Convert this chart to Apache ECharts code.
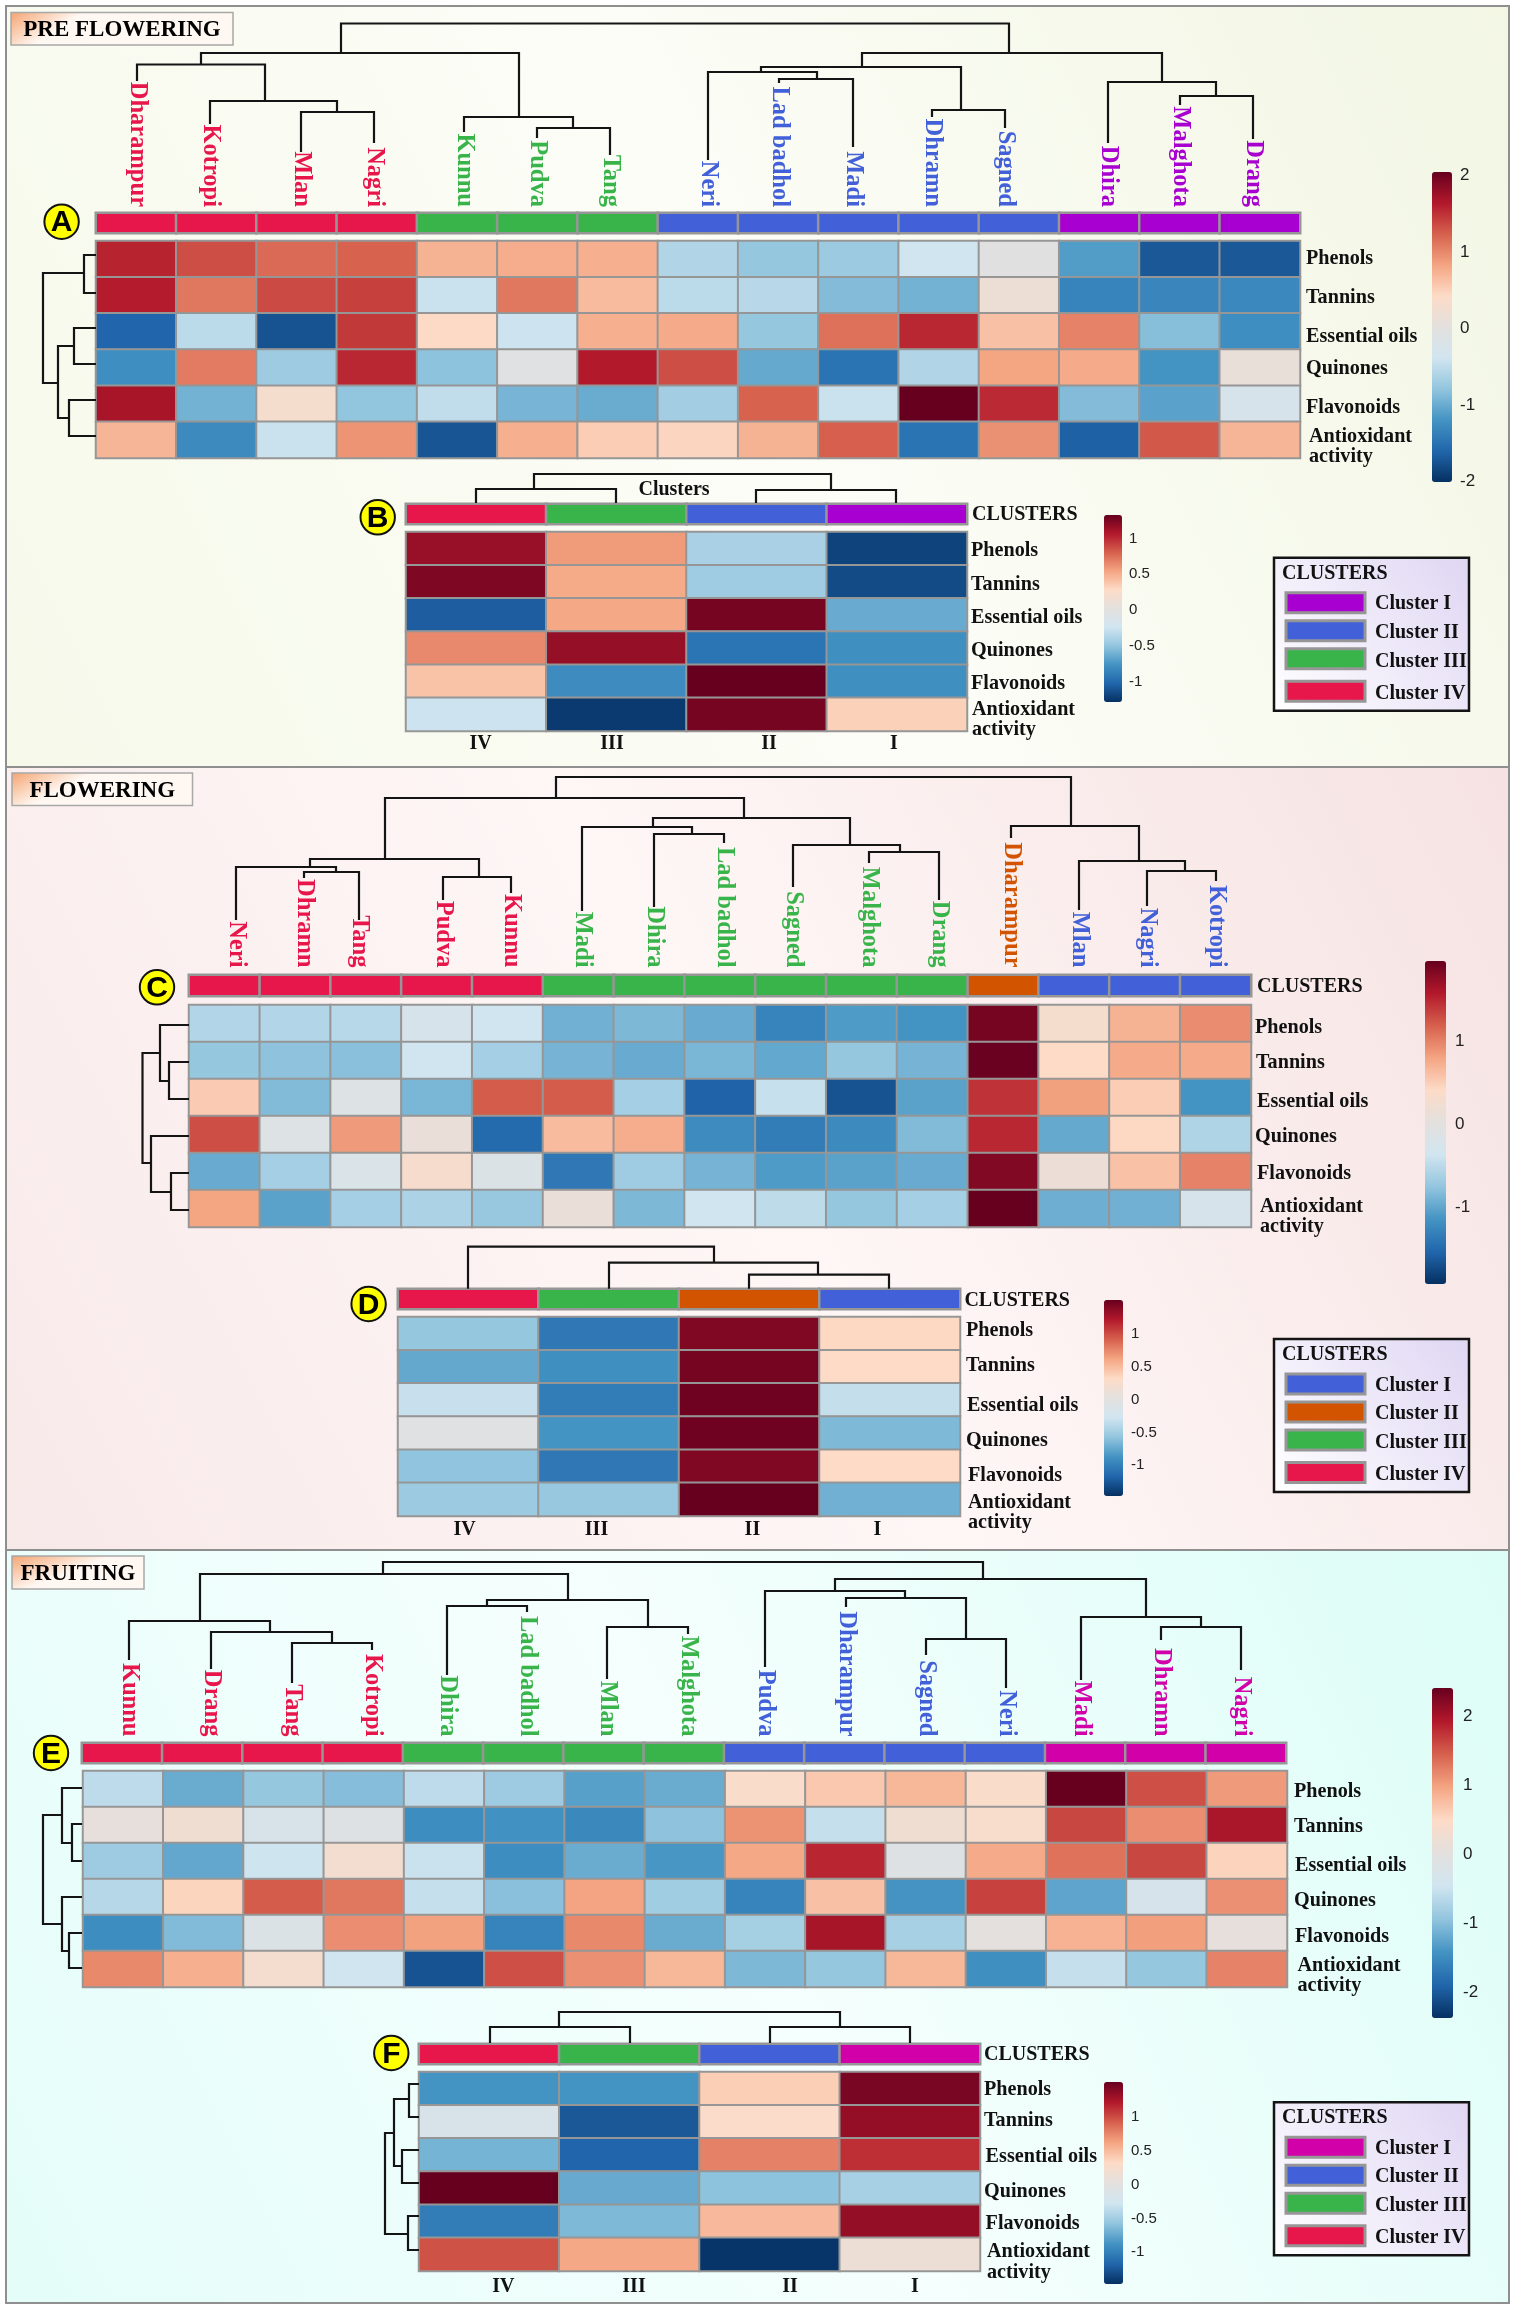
<!DOCTYPE html>
<html>
<head>
<meta charset="utf-8">
<style>html,body{margin:0;padding:0;background:#fff}#main{width:1517px;height:2308px}</style>
<script src="https://cdn.jsdelivr.net/npm/echarts@6/dist/echarts.min.js"></script>
</head>
<body>
<div id="main"></div>
<script>
// ---------- labels ----------
const rowNames = ['Phenols','Tannins','Essential oils','Quinones','Flavonoids','Antioxidant activity'];
const clusterNames = ['IV','III','II','I'];
// cluster colour codes: 1 crimson, 2 green, 3 blue, 4 purple, 5 orange, 6 magenta
const colsA = ['Dharampur','Kotropi','Mlan','Nagri','Kunnu','Pudva','Tang','Neri','Lad badhol','Madi','Dhramn','Sagned','Dhira','Malghota','Drang'];
const annA  = [1,1,1,1,2,2,2,3,3,3,3,3,4,4,4];
const colsC = ['Neri','Dhramn','Tang','Pudva','Kunnu','Madi','Dhira','Lad badhol','Sagned','Malghota','Drang','Dharampur','Mlan','Nagri','Kotropi'];
const annC  = [1,1,1,1,1,2,2,2,2,2,2,5,3,3,3];
const colsE = ['Kunnu','Drang','Tang','Kotropi','Dhira','Lad badhol','Mlan','Malghota','Pudva','Dharampur','Sagned','Neri','Madi','Dhramn','Nagri'];
const annE  = [1,1,1,1,2,2,2,2,3,3,3,3,6,6,6];
const annB  = [1,2,3,4];
const annD  = [1,2,5,3];
const annF  = [1,2,3,6];

const valsA = [
 [1.56,1.32,1.16,1.2,.71,.75,.73,-.61,-.79,-.75,-.41,-.04,-1.14,-1.73,-1.73],
 [1.6,1.08,1.34,1.4,-.45,1.08,.65,-.55,-.57,-.89,-.97,.16,-1.36,-1.34,-1.32],
 [-1.62,-.55,-1.77,1.44,.41,-.43,.73,.77,-.79,1.12,1.54,.61,1.02,-.87,-1.26],
 [-1.26,1.06,-.73,1.54,-.83,-.08,1.62,1.32,-1.04,-1.5,-.61,.81,.77,-1.22,.08],
 [1.68,-.97,.28,-.81,-.51,-.95,-1.02,-.71,1.2,-.45,2.03,1.52,-.89,-1.1,-.26],
 [.69,-1.3,-.45,.91,-1.75,.73,.51,.45,.71,1.22,-1.5,.93,-1.66,1.26,.69]];
const valsB = [
 [1.14,.56,-.43,-1.22],[1.23,.5,-.47,-1.18],[-1.09,.51,1.26,-.66],
 [.63,1.15,-.96,-.81],[.38,-.83,1.31,-.81],[-.28,-1.26,1.26,.31]];
const valsC = [
 [-.58,-.58,-.55,-.27,-.39,-.94,-.88,-.98,-1.31,-1.11,-1.17,1.87,.27,.68,.92],
 [-.76,-.8,-.82,-.39,-.66,-.92,-.98,-.9,-1.01,-.76,-.92,1.93,.39,.74,.74],
 [.51,-.86,-.14,-.9,1.19,1.19,-.66,-1.58,-.45,-1.7,-1.05,1.42,.8,.49,-1.17],
 [1.27,-.12,.84,.1,-1.52,.62,.72,-1.23,-1.37,-1.25,-.86,1.48,-1,.41,-.6],
 [-.98,-.66,-.2,.29,-.18,-1.4,-.7,-.92,-1.11,-1.05,-.98,1.81,.14,.58,.98],
 [.78,-1.05,-.66,-.62,-.74,.1,-.88,-.39,-.51,-.76,-.66,1.95,-.96,-.94,-.25]];
const valsD = [
 [-.58,-1.07,1.39,.31],[-.77,-.92,1.43,.3],[-.34,-1.04,1.46,-.36],
 [-.07,-.89,1.46,-.67],[-.6,-1.07,1.39,.3],[-.55,-.57,1.49,-.72]];
const valsE = [
 [-.62,-1.2,-.93,-1.03,-.62,-.86,-1.31,-1.2,.41,.65,.79,.41,2.39,1.55,1.03],
 [.07,.24,-.29,-.14,-1.5,-1.46,-1.55,-.98,1.08,-.57,.24,.38,1.6,1.12,1.96],
 [-.86,-1.24,-.5,.29,-.53,-1.5,-1.2,-1.41,.93,1.82,-.12,.91,1.31,1.6,.55],
 [-.69,.53,1.46,1.27,-.57,-1,.96,-.84,-1.6,.72,-1.43,1.63,-1.27,-.31,1.1],
 [-1.5,-1.05,-.22,1.12,.98,-1.6,1.15,-1.2,-.81,1.98,-.79,0,.84,1,.07],
 [1.15,.86,.31,-.48,-2.08,1.55,1.1,.79,-1.08,-.93,.79,-1.48,-.57,-.93,1.2]];
const valsF = [
 [-.89,-.89,.37,1.42],[-.19,-1.27,.27,1.31],[-.7,-1.19,.75,1.1],
 [1.49,-.76,-.61,-.49],[-1.04,-.67,.49,1.31],[.95,.58,-1.46,.12]];

// ---------- dendrograms: leaf position / leaf base, then merges [childA, childB, height, parent stem] ----------
const leafPosA  = [41,114,205,278,368,441,514,612,683,757,836,909,1012,1084,1157];
const leafBaseA = [131,88,60,69,80,74,57,52,129,65,95,84,69,107,73];
const mergeA = [[2,3,100,241],[1,15,111,169],[0,16,147.5,105],[5,6,84,477],[4,18,95,423],[17,19,159,245],
 [8,9,133,721],[7,21,140,665],[10,11,102,865],[22,23,145,766],[13,14,116,1120],[12,25,130,1066],[24,26,159,913],[20,27,188.5]];
const leafPosC  = [47,115,170,254,322,393,465,535,604,680,750,822,890,958,1027];
const leafBaseC = [54,96,54,74,81,63,67,131,87,111,74,136,64,68,93];
const mergeC = [[1,2,102,147],[0,15,107,121],[3,4,97,290],[16,17,115,196],[6,7,140,503],[5,19,147,464],
 [9,10,122,711],[8,21,129,661],[20,22,156,555],[18,23,176,367],[13,14,103,996],[12,25,113,950],[11,26,148,882],[24,27,197]];
const leafPosE  = [47,129,210,290,365,445,525,606,683,764,844,924,999,1079,1159];
const leafBaseE = [82,73,59,92,67,130,63,108,75,135,87,54,62,102,72];
const mergeE = [[2,3,99,250],[1,15,110,188],[0,16,121,118],[4,5,136,405],[6,7,115,566],[18,19,142,486],[17,20,168,301],
 [10,11,103,884],[9,22,144,823],[8,23,151,753],[13,14,115,1119],[12,25,125,1064],[24,26,163,901],[21,27,180]];
const leafPosB = [70,210,350,490], leafBaseB = [0,0,0,0], mergeB = [[0,1,14,128],[2,3,13,425],[4,5,29]];
const leafPosD = [70,211,351,491], leafBaseD = [0,0,0,0], mergeD = [[2,3,14,420],[1,4,26,316],[0,5,42]];
const leafPosF = [71,211,351,491], leafBaseF = [0,0,0,0], mergeF = [[0,1,16,140],[2,3,16,421],[4,5,31]];
const rowLeafA = [14,52,87,123,159,195], rowMergeA = [[0,1,12,32],[2,3,22,105],[4,5,27,177],[7,8,38,142],[6,9,53]];
const rowLeafC = [20,57,94,131,168,205], rowMergeC = [[1,2,20,76],[0,6,29,48],[4,5,18,187],[3,8,38,158],[7,9,46.5]];
const rowLeafE = [18,54,91,127,163,198], rowMergeE = [[1,2,10,73],[0,6,20,45],[4,5,13,181],[3,8,20,154],[7,9,39]];
const rowLeafF = [13,46,79,112,145,179], rowMergeF = [[0,1,10,28],[2,3,17,95],[6,7,25,62],[4,5,11,163],[8,9,34]];

// ---------- colour bars ----------
const ticksBig = [2,1,0,-1,-2];
const ticksMid = [1,0,-1];
const ticksSmall = [1,0.5,0,-0.5,-1];
const rangeA = 2.03, rangeB = 1.31, rangeC = 1.95, rangeD = 1.49, rangeE = 2.39, rangeF = 1.49;

// ---------- styling ----------
const ramp = ['#053061','#2166AC','#4393C3','#92C5DE','#D1E5F0','#E3E0DE','#FDDBC7','#F4A582','#D6604D','#B2182B','#67001F'];
const clusterColor = {1:'#E8174B',2:'#39B44A',3:'#4260D8',4:'#A800D0',5:'#D35400',6:'#D100A8'};
const SERIF = '"Liberation Serif","Times New Roman",serif';
const SANS = '"Liberation Sans",Arial,sans-serif';
const GRAY = '#969696';

const grids=[], xAxes=[], yAxes=[], series=[], visualMaps=[], gfx=[];

function addGrid(l,t,w,h,x,y){
  const i=grids.length;
  grids.push({left:l,top:t,width:w,height:h,containLabel:false,show:false});
  xAxes.push(Object.assign({gridIndex:i,show:false},x));
  yAxes.push(Object.assign({gridIndex:i,show:false},y));
  return i;
}
function text(x,y,s,font,fill,align,sx){
  gfx.push({type:'text',x,y:y+1.5,scaleX:sx||1,silent:true,
    style:{text:s,font,fill:fill||'#111',align:align||'left',verticalAlign:'middle'}});
}
function treeSegments(pos0,base0,merges){
  const pos=pos0.slice(), base=base0.slice(), out=[];
  merges.forEach(m=>{
    out.push([pos[m[0]],base[m[0]],pos[m[1]],base[m[1]],m[2]]);
    pos.push(m[3]); base.push(m[2]);
  });
  return out;
}
function treeSeries(gridIdx,segs,horizontal){
  series.push({type:'custom',coordinateSystem:'cartesian2d',xAxisIndex:gridIdx,yAxisIndex:gridIdx,silent:true,clip:false,
    data:segs,animation:false,
    renderItem(params,api){
      const p=(v,d)=>api.coord(horizontal?[d,v]:[v,d]);
      const a=api.value(0),ba=api.value(1),b=api.value(2),bb=api.value(3),h=api.value(4);
      return {type:'polyline',shape:{points:[p(a,ba),p(a,h),p(b,h),p(b,bb)]},
        style:{stroke:'#141414',lineWidth:2.2,fill:null}};
    }});
}
function leafLabels(gridIdx,pos,names,codes,end){
  series.push({type:'custom',coordinateSystem:'cartesian2d',xAxisIndex:gridIdx,yAxisIndex:gridIdx,silent:true,clip:false,
    data:pos.map((v,i)=>[v,end]),animation:false,
    renderItem(params,api){
      const c=api.coord([api.value(0),api.value(1)]), i=params.dataIndex;
      return {type:'text',x:c[0],y:c[1],rotation:-Math.PI/2,
        style:{text:names[i],font:'bold 24.5px '+SERIF,fill:clusterColor[codes[i]],align:'right',verticalAlign:'middle'}};
    }});
}
function heatmap(h,vals,colNames,range,bar,ticks,tickX,tickFont){
  const g=addGrid(h.l,h.t,h.w,h.h,
    {type:'category',data:colNames},{type:'category',data:rowNames,inverse:true});
  const data=[]; vals.forEach((row,r)=>row.forEach((v,c)=>data.push([c,r,v])));
  const si=series.length;
  series.push({type:'heatmap',xAxisIndex:g,yAxisIndex:g,data,progressive:0,animation:false,silent:true,
    itemStyle:{borderColor:GRAY,borderWidth:2}});
  visualMaps.push({type:'continuous',seriesIndex:si,min:-range,max:range,calculable:false,hoverLink:false,
    left:bar.l,top:bar.t,itemWidth:bar.w,itemHeight:bar.h,padding:0,orient:'vertical',
    inRange:{color:ramp}});
  ticks.forEach(v=>text(tickX,bar.t+(range-v)/(2*range)*bar.h,String(v),tickFont+'px '+SANS,'#222'));
}
const annSeries=[];
function annotation(a,codes,names){
  const g=addGrid(a.l,a.t,a.w,a.h,
    {type:'category',data:names},{type:'category',data:['CLUSTERS']});
  annSeries.push(series.length);
  series.push({type:'heatmap',xAxisIndex:g,yAxisIndex:g,data:codes.map((c,i)=>[i,0,c]),progressive:0,animation:false,silent:true,
    itemStyle:{borderColor:GRAY,borderWidth:2.5}});
}
function rowLabels(x,xa,ys){
  const f='bold 21px '+SERIF, sx=.96;
  rowNames.slice(0,5).forEach((n,i)=>text(x[i],ys[i],n,f,'#111','left',sx));
  text(xa,ys[5],'Antioxidant',f,'#111','left',sx);
  text(xa,ys[6],'activity',f,'#111','left',sx);
}
function panelBg(y,h,c1,c2,c3){
  gfx.push({type:'rect',shape:{x:6,y,width:1503,height:h},silent:true,
    style:{stroke:'#8f8f8f',lineWidth:2,
      fill:{type:'linear',x:1,y:0,x2:0,y2:1,colorStops:[{offset:0,color:c1},{offset:.5,color:c2},{offset:1,color:c3}]}}});
}
function tag(x,y,w,h,s){
  gfx.push({type:'rect',shape:{x,y,width:w,height:h},silent:true,
    style:{stroke:'#a8a8a8',lineWidth:1.5,
      fill:{type:'linear',x:0,y:0,x2:.1,y2:1,colorStops:[{offset:0,color:'#f4a26e'},{offset:1,color:'#fff8f2'}]}}});
  text(x+w/2,y+h/2,s,'bold 23px '+SERIF,'#000','center');
}
function badge(x,y,s){
  gfx.push({type:'circle',shape:{cx:x,cy:y,r:17.2},silent:true,style:{fill:'#ffff00',stroke:'#111',lineWidth:2}});
  text(x,y,s,'bold 30px '+SANS,'#000','center');
}
function legendBox(top,codes){
  const l=1274,w=195;
  gfx.push({type:'rect',shape:{x:l,y:top,width:w,height:153},silent:true,
    style:{stroke:'#141414',lineWidth:2.5,
      fill:{type:'linear',x:0,y:1,x2:1,y2:0,colorStops:[{offset:0,color:'#ffffff'},{offset:1,color:'#dfd6f3'}]}}});
  text(1282,top+14.5,'CLUSTERS','bold 20px '+SERIF);
  const sw=[35,63,91,123.5], ty=[45,73.5,102.5,134.5], names=['Cluster I','Cluster II','Cluster III','Cluster IV'];
  codes.forEach((c,i)=>{
    gfx.push({type:'rect',shape:{x:1286,y:top+sw[i],width:79,height:20},silent:true,
      style:{fill:clusterColor[c],stroke:GRAY,lineWidth:3}});
    text(1375,top+ty[i],names[i],'bold 20px '+SERIF);
  });
}

// ---------- panel backgrounds ----------
panelBg(6,761,'#f2f6e3','#fcfdf7','#f6f9ea');
panelBg(767,783,'#f6e2e2','#fef7f6','#f8e9e9');
panelBg(1550,753,'#dcfdf6','#f5fffd','#e4fdf9');
tag(11,12.5,222,32.5,'PRE FLOWERING');
tag(12,773,180.5,32.5,'FLOWERING');
tag(12,1556,132,33,'FRUITING');

// ---------- A ----------
{
  const h={l:96,t:241,w:1204,h:217}, annTop=213;
  heatmap(h,valsA,colsA,rangeA,{l:1432,t:172,w:20,h:310},ticksBig,1460,17);
  annotation({l:96,t:annTop,w:1204,h:20},annA,colsA);
  const g=addGrid(96,0,1204,212,{type:'value',min:0,max:1204},{type:'value',min:0,max:212});
  treeSeries(g,treeSegments(leafPosA,leafBaseA,mergeA),false);
  leafLabels(g,leafPosA,colsA,annA,5);
  const r=addGrid(36,241,60,217,{type:'value',min:0,max:60,inverse:true},{type:'value',min:0,max:217,inverse:true});
  treeSeries(r,treeSegments(rowLeafA,rowLeafA.map(()=>0),rowMergeA),true);
  rowLabels([1306,1306,1306,1306,1306],1309,[257,296,335,367,406,435,455]);
  badge(61.6,221.7,'A');
}
// ---------- B ----------
{
  const h={l:406,t:532,w:561,h:199};
  heatmap(h,valsB,clusterNames,rangeB,{l:1104,t:515,w:18,h:187},ticksSmall,1129,15);
  annotation({l:406,t:504,w:561,h:20},annB,clusterNames);
  const g=addGrid(406,440,561,63,{type:'value',min:0,max:561},{type:'value',min:0,max:63});
  treeSeries(g,treeSegments(leafPosB,leafBaseB,mergeB),false);
  text(674,488,'Clusters','bold 20px '+SERIF,'#111','center');
  text(972,513,'CLUSTERS','bold 20px '+SERIF);
  rowLabels([971,971,971,971,971],972,[549,583,616,649,682,708,728]);
  [480.6,612,769,894].forEach((x,i)=>text(x,742,clusterNames[i],'bold 20px '+SERIF,'#111','center'));
  badge(377.7,517.3,'B');
  legendBox(557.7,[4,3,2,1]);
}
// ---------- C ----------
{
  const h={l:189,t:1005,w:1062,h:222};
  heatmap(h,valsC,colsC,rangeC,{l:1425,t:961,w:21,h:323},ticksMid,1455,17);
  annotation({l:189,t:975,w:1062,h:21},annC,colsC);
  const g=addGrid(189,770,1062,204,{type:'value',min:0,max:1062},{type:'value',min:0,max:204});
  treeSeries(g,treeSegments(leafPosC,leafBaseC,mergeC),false);
  leafLabels(g,leafPosC,colsC,annC,6.5);
  const r=addGrid(129,1005,60,222,{type:'value',min:0,max:60,inverse:true},{type:'value',min:0,max:222,inverse:true});
  treeSeries(r,treeSegments(rowLeafC,rowLeafC.map(()=>0),rowMergeC),true);
  text(1257,985,'CLUSTERS','bold 20px '+SERIF);
  rowLabels([1255,1256,1257,1255,1257],1260,[1026,1061,1100,1135,1172,1205,1225]);
  badge(157,987.3,'C');
}
// ---------- D ----------
{
  const h={l:398,t:1317,w:562,h:199};
  heatmap(h,valsD,clusterNames,rangeD,{l:1104,t:1300,w:19,h:196},ticksSmall,1131,15);
  annotation({l:398,t:1289,w:562,h:20},annD,clusterNames);
  const g=addGrid(398,1228,562,60.7,{type:'value',min:0,max:562},{type:'value',min:0,max:60.7});
  treeSeries(g,treeSegments(leafPosD,leafBaseD,mergeD),false);
  text(964.4,1299,'CLUSTERS','bold 20px '+SERIF);
  rowLabels([966,966,967,966,968],968,[1329,1364,1404,1439,1474,1501,1521]);
  [464.7,596.5,752.4,877.3].forEach((x,i)=>text(x,1528,clusterNames[i],'bold 20px '+SERIF,'#111','center'));
  badge(368.6,1304,'D');
  legendBox(1339,[3,5,2,1]);
}
// ---------- E ----------
{
  const h={l:83,t:1771,w:1204,h:216};
  heatmap(h,valsE,colsE,rangeE,{l:1432,t:1688,w:21,h:330},ticksBig,1463,17);
  annotation({l:82,t:1743,w:1204,h:20},annE,colsE);
  const g=addGrid(82,1552,1204,190,{type:'value',min:0,max:1204},{type:'value',min:0,max:190});
  treeSeries(g,treeSegments(leafPosE,leafBaseE,mergeE),false);
  leafLabels(g,leafPosE,colsE,annE,5.5);
  const r=addGrid(22,1770,60,217,{type:'value',min:0,max:60,inverse:true},{type:'value',min:0,max:217,inverse:true});
  treeSeries(r,treeSegments(rowLeafE,rowLeafE.map(()=>0),rowMergeE),true);
  rowLabels([1294,1294,1295,1294,1295],1297.5,[1790,1825,1864,1899,1935,1964,1984]);
  badge(51,1753,'E');
}
// ---------- F ----------
{
  const h={l:419,t:2072,w:561,h:199};
  heatmap(h,valsF,clusterNames,rangeF,{l:1104,t:2082,w:19,h:202},ticksSmall,1131,15);
  annotation({l:419,t:2044,w:561,h:20},annF,clusterNames);
  const g=addGrid(419,1995,561,48,{type:'value',min:0,max:561},{type:'value',min:0,max:48});
  treeSeries(g,treeSegments(leafPosF,leafBaseF,mergeF),false);
  const r=addGrid(369,2071,50,200,{type:'value',min:0,max:50,inverse:true},{type:'value',min:0,max:200,inverse:true});
  treeSeries(r,treeSegments(rowLeafF,rowLeafF.map(()=>0),rowMergeF),true);
  text(984,2053,'CLUSTERS','bold 20px '+SERIF);
  rowLabels([984,984,985.6,984,985.6],987,[2088,2119,2155,2190,2222,2250,2271]);
  [503.4,634,790,915].forEach((x,i)=>text(x,2285,clusterNames[i],'bold 20px '+SERIF,'#111','center'));
  badge(391.3,2053,'F');
  legendBox(2102.3,[6,3,2,1]);
}

visualMaps.push({type:'piecewise',show:false,seriesIndex:annSeries,
  pieces:Object.keys(clusterColor).map(k=>({value:+k,color:clusterColor[k]}))});

const chart=echarts.init(document.getElementById('main'),null,{renderer:'canvas',width:1517,height:2308});
chart.setOption({
  animation:false,
  backgroundColor:'#ffffff',
  tooltip:{show:false},
  grid:grids,xAxis:xAxes,yAxis:yAxes,
  visualMap:visualMaps,
  graphic:{elements:gfx},
  series:series
});
</script>
</body>
</html>
